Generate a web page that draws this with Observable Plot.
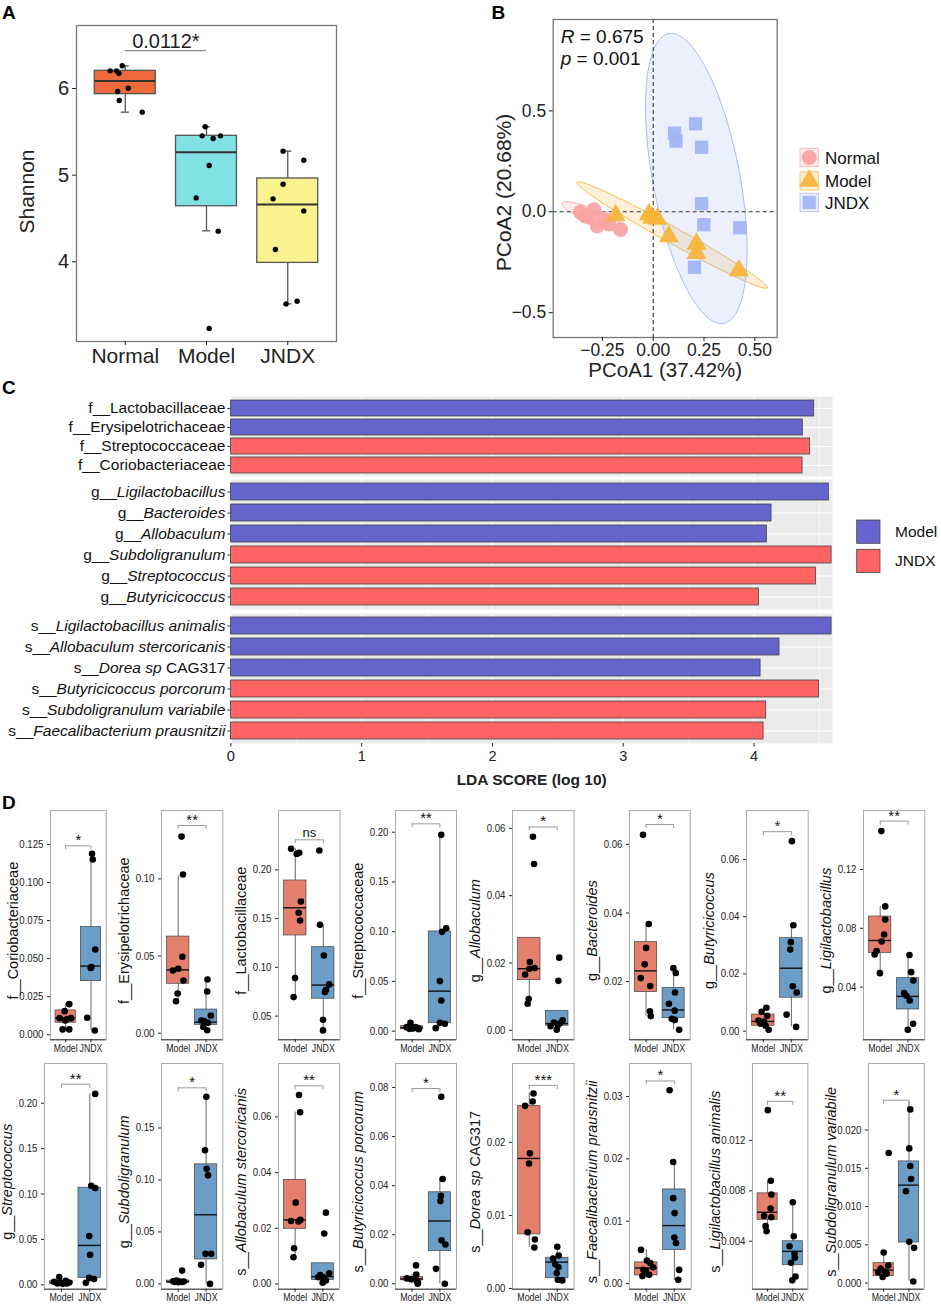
<!DOCTYPE html>
<html><head><meta charset="utf-8">
<script src="https://cdn.jsdelivr.net/npm/d3@7"></script>
<script src="https://cdn.jsdelivr.net/npm/@observablehq/plot@0.6"></script>
<style>
html,body{margin:0;padding:0;background:#fff;}
#root{position:relative;width:941px;height:1308px;overflow:hidden;background:#fff;font-family:"Liberation Sans",Arial,sans-serif;}
</style></head><body><div id="root"></div>
<script>
// ---------------- Panel A data ----------------
const aGroups = ["Normal","Model","JNDX"];
const aColors = ["#EE6A3C","#80E2E5","#FAF28F"];
const aBoxLo  = [5.727, 4.358, 3.515];
const aBoxQ1  = [5.935, 4.642, 3.988];
const aBoxMed = [6.088, 5.265, 4.662];
const aBoxQ3  = [6.204, 5.454, 4.962];
const aBoxHi  = [6.262, 5.558, 5.277];
const aShannon = [
  [6.204,6.204,6.173,6.262,5.965,6.004,5.862,5.727],
  [5.558,5.454,5.423,5.454,5.112,4.738,4.354,3.231],
  [5.277,5.173,4.896,4.727,4.588,4.142,3.515,3.546]];
const aJitter = [
  [-0.185,-0.107,-0.078,-0.037,-0.094,0.037,-0.074,0.209],
  [-0.016,-0.053,0.082,0.172,0.033,-0.127,0.144,0.033],
  [-0.057,0.197,-0.057,-0.181,0.197,-0.152,-0.021,0.115]];
const aTicks = [4,5,6];
const aSigY = 6.438, aSigLabel = "0.0112*";

// ---------------- Panel B data ----------------
const bGroups = ["Normal","Model","JNDX"];
const bColors = ["#F9A3A3","#F6B43A","#A1B4F3"];
const bSymbols = ["circle","triangle","square"];
const bPC1 = [
  [-0.161,-0.275,-0.317,-0.358,-0.292,-0.243,-0.218,-0.335],
  [-0.185,-0.021,0.020,-0.005,0.077,0.213,0.213,0.421],
  [0.105,0.112,0.208,0.238,0.238,0.249,0.426,0.203]];
const bPC2 = [
  [-0.088,-0.070,-0.027,-0.002,0.010,-0.035,-0.060,-0.020],
  [-0.018,-0.013,-0.035,-0.030,-0.122,-0.159,-0.205,-0.291],
  [0.390,0.350,0.436,0.320,0.040,-0.064,-0.079,-0.275]];
const bEllCx = [-0.288, 0.093, 0.212];
const bEllCy = [-0.025, -0.115, 0.165];
const bEllA = [0.174, 0.536, 0.731];
const bEllB = [0.034, 0.040, 0.214];
const bEllAngle = [-23, -29.2, 100.65];
const bTicksX = [-0.25,0,0.25,0.5], bTicksY = [-0.5,0,0.5];

// ---------------- Panel C data ----------------
const cTaxa = ["f__Lactobacillaceae","f__Erysipelotrichaceae","f__Streptococcaceae","f__Coriobacteriaceae",
  "g__Ligilactobacillus","g__Bacteroides","g__Allobaculum","g__Subdoligranulum","g__Streptococcus","g__Butyricicoccus",
  "s__Ligilactobacillus animalis","s__Allobaculum stercoricanis","s__Dorea sp CAG317","s__Butyricicoccus porcorum",
  "s__Subdoligranulum variabile","s__Faecalibacterium prausnitzii"];
const cLDA = [4.460,4.373,4.429,4.371,4.572,4.134,4.098,4.593,4.473,4.037,4.593,4.195,4.050,4.498,4.093,4.073];
const cGroup = ["Model","Model","JNDX","JNDX","Model","Model","Model","JNDX","JNDX","JNDX","Model","Model","Model","JNDX","JNDX","JNDX"];
const cGroups = ["Model","JNDX"];
const cColors = ["#6464CC","#FF6363"];
const cLevels = ["f","g","s"];

// ---------------- Panel D data ----------------
const dTaxa = ["f__Coriobacteriaceae","f__Erysipelotrichaceae","f__Lactobacillaceae","f__Streptococcaceae",
  "g__Allobaculum","g__Bacteroides","g__Butyricicoccus","g__Ligilactobacillus",
  "g__Streptococcus","g__Subdoligranulum","s__Allobaculum stercoricanis","s__Butyricicoccus porcorum",
  "s__Dorea sp CAG317","s__Faecalibacterium prausnitzii","s__Ligilactobacillus animalis","s__Subdoligranulum variabile"];
const dSig = ["*","**","ns","**","*","*","*","**","**","*","**","*","***","*","**","*"];
const dBracket = [0.1241,0.1346,0.2308,0.2084,0.0604,0.0658,0.0697,0.1529,0.221,0.1886,0.0712,0.0796,0.0278,0.0325,0.0151,0.0239];
const dTicks = [[0,0.025,0.05,0.075,0.1,0.125],[0,0.05,0.1],[0.05,0.1,0.15,0.2],[0,0.05,0.1,0.15,0.2],
  [0,0.02,0.04,0.06],[0.02,0.04,0.06],[0,0.02,0.04,0.06],[0.04,0.08,0.12],
  [0,0.05,0.1,0.15,0.2],[0,0.05,0.1,0.15],[0,0.02,0.04,0.06],[0,0.02,0.04,0.06,0.08],
  [0,0.01,0.02],[0,0.01,0.02,0.03],[0.004,0.008,0.012],[0,0.005,0.01,0.015,0.02]];
const dYMin = [-0.0033,-0.0043,0.0257,-0.0087,-0.0028,0.003,-0.003,0.0042,-0.0048,-0.0051,-0.0019,-0.0022,-0.0001,-0.0009,0.0002,-0.0008];
const dYMax = [0.1473,0.1443,0.2609,0.2218,0.0653,0.0699,0.0771,0.1601,0.2438,0.212,0.0792,0.0898,0.0308,0.0353,0.0181,0.0287];
// box stats: [lower whisker, Q1, median, Q3, upper whisker]
const dModelBox = [[0.0033,0.0079,0.0109,0.016,0.0204],[0.0203,0.032,0.041,0.0626,0.102],[0.0695,0.1327,0.1611,0.1891,0.2216],[0.0011,0.0018,0.0034,0.005,0.009],
  [0.0079,0.0149,0.0183,0.0275,0.0275],[0.0099,0.0169,0.0231,0.0315,0.0368],[0.0005,0.0019,0.0034,0.0058,0.0083],[0.0495,0.0633,0.0717,0.088,0.0949],
  [0.0007,0.0011,0.0026,0.004,0.0085],[0.0003,0.001,0.0022,0.0032,0.0032],[0.0096,0.0198,0.023,0.0374,0.0617],[0.0,0.0014,0.002,0.0027,0.0038],
  [0.0056,0.0074,0.0178,0.025,0.0268],[0.0009,0.0013,0.0025,0.0034,0.0054],[0.0048,0.0057,0.0063,0.0078,0.0088],[0.0004,0.0009,0.0017,0.0026,0.004]];
const dJndxBox = [[0.0028,0.0352,0.0451,0.0707,0.1195],[0.0017,0.0054,0.0071,0.0153,0.0348],[0.036,0.0678,0.0818,0.1207,0.1436],[0.003,0.008,0.0402,0.1002,0.1973],
  [0.0002,0.0014,0.002,0.0058,0.0058],[0.0059,0.0093,0.0117,0.0181,0.0239],[0.0015,0.0117,0.022,0.0325,0.037],[0.011,0.0248,0.0337,0.0461,0.0618],
  [0.0022,0.0077,0.0434,0.107,0.2103],[0.0,0.0235,0.0665,0.115,0.18],[0.0002,0.0014,0.0026,0.0074,0.0074],[0.0,0.0133,0.0256,0.0373,0.0427],
  [0.0011,0.0014,0.0036,0.0042,0.0057],[0.0005,0.0054,0.0093,0.0151,0.0195],[0.0009,0.0021,0.0032,0.004,0.0071],[0.0002,0.0053,0.0128,0.0159,0.0237]];
const dModelPts = [
  [0.0201,0.0155,0.0109,0.0103,0.0109,0.0035,0.0035,0.0094],
  [0.1274,0.1028,0.0495,0.0417,0.0406,0.0341,0.0257,0.0207],
  [0.2216,0.2175,0.2164,0.1676,0.156,0.148,0.089,0.0695],
  [0.0084,0.004,0.003,0.0034,0.0023,0.0027,0.004,0.002],
  [0.0575,0.0494,0.0203,0.0185,0.0183,0.0166,0.0093,0.0079],
  [0.0628,0.0368,0.0298,0.025,0.021,0.0187,0.0113,0.0099],
  [0.0082,0.0068,0.0054,0.0037,0.0034,0.0026,0.0005,0.002],
  [0.1461,0.0949,0.086,0.0758,0.071,0.0645,0.0622,0.0495],
  [0.0085,0.0033,0.0022,0.0044,0.0026,0.0011,0.0015,0.0015],
  [0.0128,0.0032,0.0026,0.0022,0.0019,0.0022,0.0016,0.0019],
  [0.0679,0.0617,0.0292,0.0226,0.023,0.0224,0.0128,0.0096],
  [0.0075,0.0038,0.0022,0.0019,0.0019,0.001,0.0005,0.0],
  [0.0267,0.0256,0.025,0.0185,0.0171,0.0077,0.0067,0.0056],
  [0.0054,0.0037,0.0033,0.0022,0.0026,0.0014,0.0012,0.002],
  [0.0144,0.0088,0.0077,0.0066,0.006,0.0059,0.0052,0.0048],
  [0.017,0.004,0.0023,0.0019,0.0015,0.0012,0.0008,0.0014]];
const dJndxPts = [
  [0.1189,0.1151,0.056,0.0444,0.0438,0.0112,0.0028],
  [0.0348,0.027,0.0114,0.0082,0.0078,0.0067,0.004,0.0019],
  [0.2199,0.1436,0.1122,0.0825,0.077,0.0746,0.0462,0.0353],
  [0.1973,0.1035,0.0998,0.0503,0.0308,0.0084,0.0074,0.003],
  [0.0216,0.0147,0.003,0.0023,0.0015,0.0012,0.0002,0.0021],
  [0.0239,0.0225,0.0168,0.0135,0.0115,0.0091,0.0088,0.0059],
  [0.0664,0.037,0.0311,0.0285,0.0157,0.0135,0.0058,0.0015],
  [0.0618,0.0445,0.0502,0.0359,0.0309,0.0341,0.0151,0.011],
  [0.2103,0.1092,0.1066,0.0537,0.0331,0.0077,0.0063,0.0022],
  [0.1799,0.1285,0.1108,0.1044,0.0289,0.0289,0.0183,0.0],
  [0.0256,0.0181,0.0038,0.0032,0.0024,0.0012,0.0004,0.0024],
  [0.0762,0.0427,0.0359,0.0337,0.0177,0.016,0.0061,0.0],
  [0.0057,0.0045,0.0041,0.0033,0.0029,0.0021,0.0012,0.0011],
  [0.031,0.0195,0.0137,0.0113,0.0074,0.0065,0.0022,0.0006],
  [0.0071,0.0044,0.0036,0.003,0.0023,0.0012,0.0009,0.0027],
  [0.0227,0.0176,0.0153,0.0136,0.012,0.0054,0.0046,0.0002]];
const dModelJit = [
  [0.14,-0.04,-0.24,0.05,0.21,-0.12,0.14,-0.02],
  [0.12,0.17,0.15,0,-0.19,0.19,-0.02,-0.08],
  [-0.15,0.14,0.05,0.2,0.12,0.17,-0.01,-0.06],
  [-0.06,-0.2,0.06,0.18,-0.1,0,0.12,0.24],
  [0.13,0.17,0.02,0.19,0,-0.15,-0.02,-0.06],
  [-0.11,0.1,0,-0.05,-0.19,0.15,0.14,0.17],
  [0.11,-0.06,0.14,-0.17,0.02,-0.1,0.19,0.08],
  [0.04,0.18,0.18,0.14,0.05,-0.13,-0.2,-0.01],
  [-0.08,-0.26,-0.02,0.15,0.27,0.05,-0.14,0.19],
  [0.14,-0.06,-0.18,0.04,0.12,0.2,0,-0.12],
  [0.14,0.18,0.02,-0.15,0.19,0.12,-0.04,-0.06],
  [0.14,0.15,-0.19,-0.04,0.11,0.17,0.21,0.2],
  [0.15,0.12,-0.15,0.02,-0.01,-0.06,0.2,0.18],
  [-0.19,0.02,0.14,-0.1,0.24,0.1,-0.14,-0.01],
  [0.01,0.13,0.15,0.12,-0.14,0.15,-0.08,-0.04],
  [0.2,0,0.18,-0.12,0.06,0.12,-0.04,-0.21]];
const dJndxJit = [
  [0.04,0.07,0.17,0.01,-0.01,-0.15,0.15],
  [0.05,0.04,0.17,-0.17,-0.07,0.07,-0.1,0.04],
  [-0.14,-0.12,0.02,0.21,0.1,0.06,-0.01,-0.01],
  [0.05,0.23,0.08,0,0.05,0,0.18,-0.15],
  [0.07,0.04,0.19,-0.12,0.02,-0.24,-0.02,0.1],
  [-0.01,0.08,0.05,-0.17,0.04,-0.07,0.04,0.2],
  [0.02,0.07,-0.02,-0.04,0.05,0.19,-0.17,0.17],
  [0.05,0.19,0.11,-0.14,0.06,-0.06,0.18,-0.01],
  [0.19,0.05,0.19,-0.02,0.01,-0.02,0.15,-0.14],
  [0.01,-0.04,0.02,0.07,-0.02,0.18,-0.18,0.14],
  [0.11,0.05,0.23,-0.1,0.02,0.11,-0.01,-0.17],
  [0.05,0.1,0.04,0.02,0.06,0.2,-0.14,0.18],
  [0,0.05,-0.15,-0.07,0.04,-0.02,0.02,0.18],
  [-0.17,-0.04,-0.04,0.01,0,0.06,0.17,0.14],
  [0,0.04,-0.13,0.07,-0.07,0.11,-0.02,0.08],
  [0.05,0.01,0.05,0.08,-0.12,0.01,0.2,0.17]];
const dGroups = ["Model","JNDX"];
const dColors = ["#E47E6D","#6C9DC6"];

// ---------------- helpers ----------------
const FONT = '"Liberation Sans", Arial, Helvetica, sans-serif';
const NS = "http://www.w3.org/2000/svg";
const root = document.getElementById("root");
function place(el, left, top){
  el.style.position = "absolute"; el.style.left = left + "px"; el.style.top = top + "px";
  el.style.overflow = "visible"; el.style.maxWidth = "none"; root.appendChild(el); return el;
}
const baseStyle = fs => ({background:"none", fontFamily:FONT, fontSize:fs+"px", color:"#222", overflow:"visible"});
function taxonParts(name){
  const pre = name.slice(0,3), rest = name.slice(3);
  if (pre === "f__") return [{t:name, it:false}];
  const words = rest.split(" ");
  const parts = [{t:pre, it:false}];
  words.forEach((w,k) => parts.push({t: w + (k < words.length-1 ? " " : ""), it: !/\d/.test(w)}));
  return parts;
}
function fillParts(el, name){
  el.textContent = "";
  el.style.whiteSpace = "pre";
  taxonParts(name).forEach(p => {
    const ts = document.createElementNS(NS, "tspan");
    ts.textContent = p.t;
    if (p.it) ts.setAttribute("font-style", "italic");
    el.appendChild(ts);
  });
}
function addRotLabel(svg, x, y, name, fs){
  const t = document.createElementNS(NS, "text");
  t.setAttribute("transform", `translate(${x},${y}) rotate(-90)`);
  t.setAttribute("text-anchor", "middle");
  t.setAttribute("dy", "0.35em");
  t.setAttribute("font-size", fs);
  t.setAttribute("fill", "#111");
  fillParts(t, name);
  svg.appendChild(t);
}
function addText(svg, x, y, html, fs){
  const t = document.createElementNS(NS, "text");
  t.setAttribute("x", x); t.setAttribute("y", y); t.setAttribute("font-size", fs);
  t.setAttribute("fill", "#111"); t.setAttribute("text-anchor", "start");
  t.innerHTML = html; svg.appendChild(t);
}
// horizontally condense tick labels (the reference's small-multiple text is narrow)
function condenseTicks(svg, axis, k){
  svg.querySelectorAll(`g[aria-label="${axis}-axis tick label"] text`).forEach(t => {
    const tr = t.getAttribute("transform");
    if (tr && tr.includes("translate")) t.setAttribute("transform", tr + ` scale(${k},1)`);
  });
}

// ---------------- Panel A ----------------
{
  const boxes = aGroups.map((g,i) => ({g, x:i+1, lo:aBoxLo[i], q1:aBoxQ1[i], med:aBoxMed[i], q3:aBoxQ3[i], hi:aBoxHi[i]}));
  const pts = aGroups.flatMap((g,i) => aShannon[i].map((v,k) => ({x:i+1+aJitter[i][k], y:v})));
  const ch = Plot.plot({
    width:350, height:380, marginLeft:76, marginRight:14, marginTop:25, marginBottom:39,
    style: baseStyle(20),
    x:{domain:[0.4,3.6], label:null}, y:{domain:[3.081,6.727], label:null},
    color:{domain:aGroups, range:aColors},
    marks:[
      Plot.ruleX(boxes, {x:"x", y1:"lo", y2:"hi", stroke:"#555", strokeWidth:1.3}),
      Plot.ruleY(boxes, {y:"lo", x1:d=>d.x-0.05, x2:d=>d.x+0.05, stroke:"#555", strokeWidth:1.3}),
      Plot.ruleY(boxes, {y:"hi", x1:d=>d.x-0.05, x2:d=>d.x+0.05, stroke:"#555", strokeWidth:1.3}),
      Plot.rect(boxes, {x1:d=>d.x-0.375, x2:d=>d.x+0.375, y1:"q1", y2:"q3", fill:"g", stroke:"#555", strokeWidth:1.3}),
      Plot.ruleY(boxes, {y:"med", x1:d=>d.x-0.375, x2:d=>d.x+0.375, stroke:"#333", strokeWidth:2}),
      Plot.dot(pts, {x:"x", y:"y", r:2.7, fill:"#000"}),
      Plot.ruleY([aSigY], {x1:1, x2:2, stroke:"#888", strokeWidth:1.2}),
      Plot.text([aSigLabel], {x:1.5, y:aSigY, text:d=>d, lineAnchor:"bottom", dy:-3, fontSize:20}),
      Plot.text(["Shannon"], {text:d=>d, frameAnchor:"left", textAnchor:"middle", lineAnchor:"middle", rotate:-90, dx:-49, dy:8, fontSize:21}),
      Plot.frame({stroke:"#777", strokeWidth:1.3}),
      Plot.axisY({ticks:aTicks, tickFormat:d=>String(d), tickSize:4, tickPadding:3.5, label:null, fontSize:20}),
      Plot.axisX({ticks:[1,2,3], tickFormat:d=>aGroups[d-1], tickSize:4, tickPadding:3, label:null, fontSize:21})
    ]
  });
  place(ch, 0, 0);
}

// ---------------- Panel B ----------------
function ellipsePts(k){
  const th = bEllAngle[k]*Math.PI/180;
  return d3.range(0, 121).map(i => {
    const t = 2*Math.PI*i/120, ca = Math.cos(t), sa = Math.sin(t);
    return {x: bEllCx[k] + bEllA[k]*ca*Math.cos(th) - bEllB[k]*sa*Math.sin(th),
            y: bEllCy[k] + bEllA[k]*ca*Math.sin(th) + bEllB[k]*sa*Math.cos(th)};
  });
}
{
  const pts = bGroups.flatMap((g,i) => bPC1[i].map((x,k) => ({g, x, y:bPC2[i][k]})));
  const fx = d => (d < 0 ? "\u2212" : "") + Math.abs(d).toFixed(2);
  const fy = d => (d < 0 ? "\u2212" : "") + Math.abs(d).toFixed(1);
  const ch = Plot.plot({
    width:320, height:380, marginLeft:82.7, marginRight:13.3, marginTop:19, marginBottom:43,
    style: baseStyle(17.5),
    x:{domain:[-0.492,0.610], label:null}, y:{domain:[-0.623,0.953], label:null},
    color:{domain:bGroups, range:bColors}, symbol:{domain:bGroups, range:bSymbols},
    marks:[
      ...[1,2,0].map(k => Plot.line(ellipsePts(k), {x:"x", y:"y", curve:"linear-closed", fill:bColors[k], fillOpacity:0.2, stroke:bColors[k], strokeOpacity:0.9, strokeWidth:1})),
      Plot.ruleX([0], {strokeDasharray:"4,3", stroke:"#333", strokeWidth:1.1}),
      Plot.ruleY([0], {strokeDasharray:"4,3", stroke:"#333", strokeWidth:1.1}),
      Plot.dot(pts, {x:"x", y:"y", symbol:"g", fill:"g", r:7.5, fillOpacity:0.92}),
      Plot.frame({stroke:"#777", strokeWidth:1.3}),
      Plot.axisY({ticks:bTicksY, tickFormat:fy, tickSize:4, tickPadding:3, label:null, fontSize:17.5}),
      Plot.axisX({ticks:bTicksX, tickFormat:fx, tickSize:4, tickPadding:2, label:null, fontSize:17.5}),
      Plot.text(["PCoA2 (20.68%)"], {text:d=>d, frameAnchor:"left", textAnchor:"middle", lineAnchor:"middle", rotate:-90, dx:-49, dy:14, fontSize:21}),
      Plot.text(["PCoA1 (37.42%)"], {text:d=>d, frameAnchor:"bottom", textAnchor:"middle", lineAnchor:"middle", dy:33, fontSize:20.5})
    ]
  });
  place(ch, 470, 0);
  addText(ch, 90.7, 42.7, '<tspan font-style="italic">R</tspan> = 0.675', 19);
  addText(ch, 90.7, 64.5, '<tspan font-style="italic">p</tspan> = 0.001', 19);
}

// ---------------- Panel C ----------------
{
  const tops = [396, 479.3, 612.7], hs = [80, 130, 130];
  cLevels.forEach((lev, k) => {
    const rows = cTaxa.map((t,i) => ({t, v:cLDA[i], g:cGroup[i]})).filter(d => d.t.startsWith(lev + "__"));
    const last = k === 2, mB = last ? 52 : 0;
    const ch = Plot.plot({
      width:840, height:hs[k]+mB, marginLeft:230.4, marginRight:8, marginTop:0, marginBottom:mB,
      style: baseStyle(15.5),
      x:{domain:[0,4.6], label:null, axis: last ? undefined : null},
      y:{type:"band", domain:rows.map(d=>d.t), paddingInner:0.18, paddingOuter:0.16, label:null},
      color:{domain:cGroups, range:cColors},
      marks:[
        Plot.frame({fill:"#EBEBEB", stroke:null}),
        Plot.ruleX([0.5,1.5,2.5,3.5,4.5], {stroke:"#fff", strokeWidth:0.6}),
        Plot.ruleX([0,1,2,3,4], {stroke:"#fff", strokeWidth:1.2}),
        Plot.ruleY(rows, {y:"t", stroke:"#fff", strokeWidth:1.2}),
        Plot.barX(rows, {x:"v", y:"t", fill:"g", stroke:"#444", strokeWidth:0.8}),
        Plot.axisY({tickSize:3, tickPadding:2.5, label:null, fontSize:15.5, color:"#111", stroke:"#333"}),
        ...(last ? [
          Plot.axisX({ticks:[0,1,2,3,4], tickFormat:d=>String(d), tickSize:3.5, tickPadding:4, label:null, fontSize:14.5}),
          Plot.text(["LDA SCORE (log 10)"], {text:d=>d, frameAnchor:"bottom", textAnchor:"middle", lineAnchor:"middle", dy:37, fontWeight:"bold", fontSize:15.5})
        ] : [])
      ]
    });
    place(ch, 0, tops[k]);
    ch.querySelectorAll('g[aria-label="y-axis tick label"] text').forEach(t => fillParts(t, t.textContent));
  });
}

// ---------------- Panel D ----------------
{
  const r1L = [50.3,161,277.7,395,511.7,629.3,746,862.7], r1R = [106,222.3,339.3,456,573.3,690,807.7,924];
  const r2L = [43.7,161,277.7,395,511.7,629.3,752.3,868.3], r2R = [106,222.3,338.7,456,573.3,691,807.7,924];
  dTaxa.forEach((name, i) => {
    const row = Math.floor(i/8), col = i % 8;
    const fl = (row ? r2L : r1L)[col], fr = (row ? r2R : r1R)[col];
    const ft = row ? 1063.3 : 810, fb = row ? 1289 : 1039.3;
    const mL = 60, mR = 6, mT = 6, mB = 22, W = fr - fl, H = fb - ft;
    const lo = dYMin[i], hi = dYMax[i];
    const boxes = [{g:"Model", x:1, s:dModelBox[i]}, {g:"JNDX", x:2, s:dJndxBox[i]}];
    const pts = [...dModelPts[i].map((v,k) => ({x:1+dModelJit[i][k], y:v})),
                 ...dJndxPts[i].map((v,k) => ({x:2+dJndxJit[i][k], y:v}))];
    const dec = d3.max(dTicks[i], t => { const s = String(t); return s.includes(".") ? s.split(".")[1].length : 0; });
    const br = dBracket[i], leg = (hi - lo) * 4 / H, sig = dSig[i];
    const ch = Plot.plot({
      width:W+mL+mR, height:H+mT+mB, marginLeft:mL, marginRight:mR, marginTop:mT, marginBottom:mB,
      style: baseStyle(11),
      x:{domain:[0.4,2.6], label:null}, y:{domain:[lo,hi], label:null},
      color:{domain:dGroups, range:dColors},
      marks:[
        Plot.frame({stroke:"#aaa"}),
        Plot.ruleX(boxes, {x:"x", y1:d=>d.s[0], y2:d=>d.s[4], stroke:"#666", strokeWidth:1}),
        Plot.rect(boxes, {x1:d=>d.x-0.4, x2:d=>d.x+0.4, y1:d=>d.s[1], y2:d=>d.s[3], fill:"g", stroke:"#444", strokeWidth:0.7}),
        Plot.ruleY(boxes, {y:d=>d.s[2], x1:d=>d.x-0.4, x2:d=>d.x+0.4, stroke:"#111", strokeWidth:1.4}),
        Plot.dot(pts, {x:"x", y:"y", r:3.3, fill:"#000"}),
        Plot.ruleY([br], {x1:1, x2:2, stroke:"#999", strokeWidth:1}),
        Plot.ruleX([1,2], {x:d=>d, y1:br, y2:br-leg, stroke:"#999", strokeWidth:1}),
        Plot.text([sig], {x:1.5, y:br, text:d=>d, lineAnchor:"bottom", dy: sig === "ns" ? -3 : -0.5, fontSize: sig === "ns" ? 13 : 15, fill:"#111"}),
        Plot.ruleY([lo], {stroke:"#333", strokeWidth:1}),
        Plot.axisY({ticks:dTicks[i], tickFormat:d=>d.toFixed(dec), tickSize:3, tickPadding:4, label:null, fontSize:11}),
        Plot.axisX({ticks:[1,2], tickFormat:d=>d===1?"Model":"JNDX", tickSize:3, tickPadding:1, label:null, fontSize:11})
      ]
    });
    place(ch, fl - mL, ft - mT);
    condenseTicks(ch, "x", 0.8);
    condenseTicks(ch, "y", 0.88);
    addRotLabel(ch, mL - 37, mT + H/2 + 6, name, 14.5);
  });
}

// ---------------- Overlay: panel letters & legends ----------------
{
  const ov = d3.create("svg").attr("width", 941).attr("height", 1308)
    .style("position","absolute").style("left","0px").style("top","0px")
    .style("font-family", FONT).style("pointer-events","none");
  [["A",2,18.5],["B",491.5,18.5],["C",2,394],["D",2,808.5]].forEach(([t,x,y]) =>
    ov.append("text").attr("x",x).attr("y",y).attr("font-size",19).attr("font-weight","bold").attr("fill","#000").text(t));
  const keyY = [148.3, 171.7, 193.3];
  const symTypes = [d3.symbolCircle, d3.symbolTriangle, d3.symbolSquare];
  bGroups.forEach((g,i) => {
    ov.append("rect").attr("x",800).attr("y",keyY[i]).attr("width",18.3).attr("height",18.3)
      .attr("fill",bColors[i]).attr("fill-opacity",0.2).attr("stroke",bColors[i]).attr("stroke-opacity",0.7);
    ov.append("path").attr("d", d3.symbol(symTypes[i], Math.PI*7.5*7.5)())
      .attr("transform", `translate(809.2,${keyY[i]+9.2})`).attr("fill",bColors[i]).attr("fill-opacity",0.92);
    ov.append("text").attr("x",825).attr("y",keyY[i]+15.2).attr("font-size",17).attr("fill","#111").text(g);
  });
  const cKeyY = [520, 549.3];
  cGroups.forEach((g,i) => {
    ov.append("rect").attr("x",856.7).attr("y",cKeyY[i]).attr("width",23.3).attr("height",23.3)
      .attr("fill",cColors[i]).attr("stroke","#444").attr("stroke-width",0.8);
    ov.append("text").attr("x",895).attr("y",cKeyY[i]+17).attr("font-size",15.5).attr("fill","#111").text(g);
  });
  root.appendChild(ov.node());
}
</script></body></html>
